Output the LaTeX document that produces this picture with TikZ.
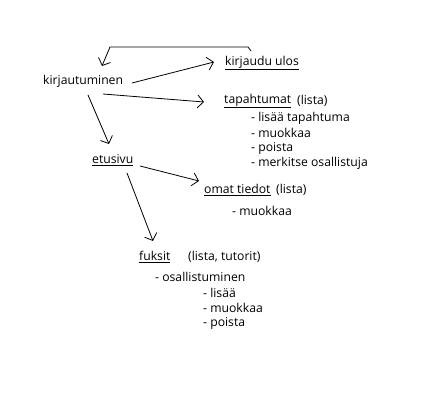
\documentclass[tikz,border=0pt]{standalone}
\usepackage{fontspec}
\setmainfont{Open Sans}
\usetikzlibrary{arrows.meta}
\tikzset{
  lbl/.style={anchor=west,inner sep=0pt,font=\fontsize{12.2}{14}\selectfont},
  arr/.style={-{Straight Barb[length=6pt,width=13pt]},line width=0.8pt},
}
\newcommand{\ul}[1]{\underline{#1}}
\begin{document}
\begin{tikzpicture}[x=1pt,y=-1pt]
\useasboundingbox (0,0) rectangle (448,406);
\node[lbl] (kirj) at (43,81) {kirjautuminen};
\node[lbl] (ulos) at (225,63) {\ul{kirjaudu ulos}};
\node[lbl] (tap) at (224,101) {\ul{tapahtumat}};
\node[lbl] (tapl) at (297,101) {(lista)};
\node[lbl] (t1) at (251,118) {- lisää tapahtuma};
\node[lbl] (t2) at (251,133) {- muokkaa};
\node[lbl] (t3) at (251,148) {- poista};
\node[lbl] (t4) at (251,163) {- merkitse osallistuja};
\node[lbl] (etu) at (92,160) {\ul{etusivu}};
\node[lbl] (omat) at (204,190) {\ul{omat tiedot}};
\node[lbl] (omatl) at (276,190) {(lista)};
\node[lbl] (o1) at (232,211) {- muokkaa};
\node[lbl] (fuk) at (139,257) {\ul{fuksit}};
\node[lbl] (fukl) at (188,257) {(lista, tutorit)};
\node[lbl] (f1) at (155,277) {- osallistuminen};
\node[lbl] (f2) at (203,293) {- lisää};
\node[lbl] (f3) at (203,308) {- muokkaa};
\node[lbl] (f4) at (203,323) {- poista};
\coordinate (r0) at (251,51);
\coordinate (r1) at (248,47);
\coordinate (r2) at (110,47);
\coordinate (k1) at (102,66);
\coordinate (k2) at (132,83);
\coordinate (u1) at (214,62);
\coordinate (k3) at (103,94);
\coordinate (ta1) at (204,102);
\coordinate (k4) at (88,95);
\coordinate (e1) at (109,144);
\coordinate (e2) at (140,166);
\coordinate (om1) at (199,181);
\coordinate (e3) at (127,173);
\coordinate (fk1) at (153,241);
\draw[arr] (r0) -- (r1) -- (r2) -- (k1);
\draw[arr] (k2) -- (u1);
\draw[arr] (k3) -- (ta1);
\draw[arr] (k4) -- (e1);
\draw[arr] (e2) -- (om1);
\draw[arr] (e3) -- (fk1);
\end{tikzpicture}
\end{document}
